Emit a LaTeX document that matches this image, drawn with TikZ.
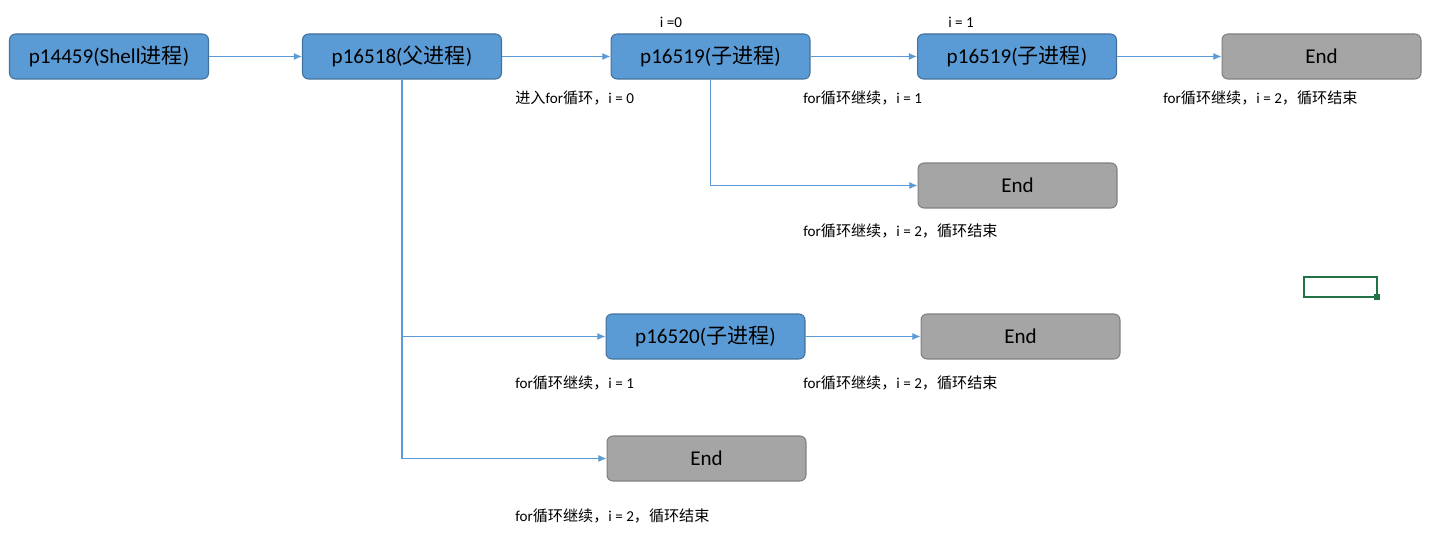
\documentclass[tikz,border=0pt]{standalone}
\usepackage{fontspec}
\setmainfont{Carlito}
\newfontfamily\cjk{Noto Sans CJK SC}
\usepackage{xcolor}
\usetikzlibrary{arrows.meta,positioning}
\definecolor{procblue}{HTML}{5B9BD5}
\definecolor{procedge}{HTML}{41719C}
\definecolor{endgray}{HTML}{A5A5A5}
\definecolor{endedge}{HTML}{7F7F7F}
\definecolor{cellgreen}{HTML}{217346}

\begin{document}
\begin{tikzpicture}[
    x=0.02cm, y=-0.02cm,
    box/.style={rectangle, rounded corners=0.12cm, minimum width=3.98cm, minimum height=0.9cm, inner sep=0, font=\fontsize{12}{14}\selectfont, line width=0.6pt},
    proc/.style={box, fill=procblue, draw=procedge},
    endbox/.style={box, fill=endgray, draw=endedge},
    note/.style={anchor=west, inner sep=0, font=\fontsize{8.6}{10}\selectfont},
    link/.style={draw=procblue, line width=0.6pt, -{Latex[length=4.6pt,width=4pt]}},
    trunk/.style={draw=procblue, line width=0.6pt}]
\useasboundingbox (0,0) rectangle (1443,533);

\node[proc] (shell) at (109,56.5) {p14459(Shell{\cjk 进程})};
\node[proc] (parent) at (402,56.5) {p16518({\cjk 父进程})};
\node[proc] (childA) at (710.5,56.5) {p16519({\cjk 子进程})};
\node[proc] (childAA) at (1017,56.5) {p16519({\cjk 子进程})};
\node[endbox] (endAA) at (1321.5,56.5) {End};
\node[endbox] (endA) at (1017.5,185.5) {End};
\node[proc] (childB) at (705.5,336.5) {p16520({\cjk 子进程})};
\node[endbox] (endB) at (1020.5,336.5) {End};
\node[endbox] (endP) at (706.5,458.5) {End};

\node[anchor=center, inner sep=0, font=\fontsize{8.6}{10}\selectfont] (iA) at (671,22) {i =0};
\node[anchor=center, inner sep=0, font=\fontsize{8.6}{10}\selectfont] (iB) at (961,22) {i = 1};

\node[note] (nA) at (515,98) {{\cjk 进入}for{\cjk 循环，}i = 0};
\node[note] (nB) at (803,98) {for{\cjk 循环继续，}i = 1};
\node[note] (nC) at (1163,98) {for{\cjk 循环继续，}i = 2{\cjk ，循环结束}};
\node[note] (nD) at (803,231) {for{\cjk 循环继续，}i = 2{\cjk ，循环结束}};
\node[note] (nE) at (515,383) {for{\cjk 循环继续，}i = 1};
\node[note] (nF) at (803,383) {for{\cjk 循环继续，}i = 2{\cjk ，循环结束}};
\node[note] (nG) at (515,516) {for{\cjk 循环继续，}i = 2{\cjk ，循环结束}};

\coordinate (forkB) at (parent.south |- childB.west);
\coordinate (forkP) at (parent.south |- endP.west);

\path[link] (shell) -- (parent);
\path[link] (parent) -- (childA);
\path[link] (childA) -- (childAA);
\path[link] (childAA) -- (endAA);
\path[link] (childA.south) |- (endA.west);
\path[trunk] (parent.south) -- (forkP);
\path[link] (forkB) -- (childB.west);
\path[link] (forkP) -- (endP.west);
\path[link] (childB) -- (endB);

\draw[cellgreen, line width=1.2pt] (1304,277) rectangle (1377,297);
\fill[cellgreen] (1374,294) rectangle (1380,300);

\end{tikzpicture}
\end{document}
